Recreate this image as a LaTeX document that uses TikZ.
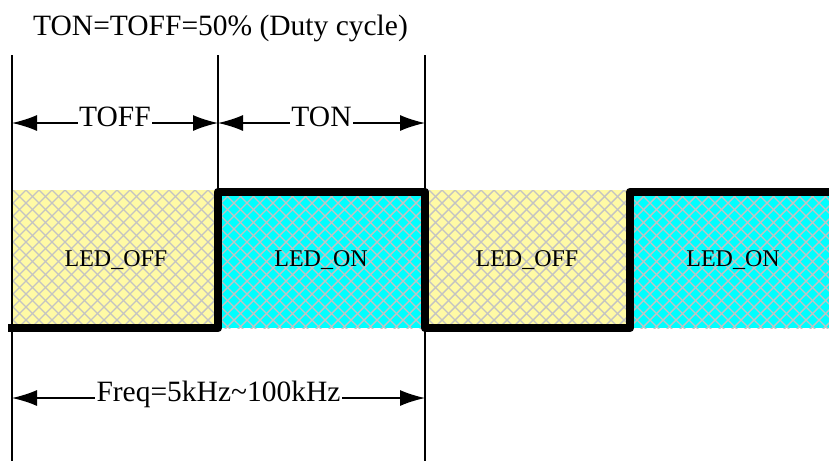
\documentclass[tikz,border=0pt]{standalone}
\usepackage{fontspec}
\setmainfont{Liberation Serif}
\usetikzlibrary{arrows.meta}
\definecolor{ledyellow}{RGB}{255,250,165}
\definecolor{ledcyan}{RGB}{0,255,255}
\definecolor{hatch}{RGB}{195,195,195}
\tikzset{
  guide/.style={line width=1.4pt, black},
  dim/.style={line width=1.4pt, black, {Latex[length=25pt,width=16pt]}-{Latex[length=25pt,width=16pt]}},
  dimlabel/.style={fill=white, inner xsep=1.5pt, inner ysep=1pt, font=\fontsize{29.5}{34}\selectfont, text height=0.662em, text depth=0pt},
  ledlabel/.style={font=\fontsize{24}{28}\selectfont, anchor=base},
  hatchline/.style={line width=1.4pt, hatch},
  wave/.style={line width=8.5pt, line join=round, black}
}
\newcommand{\hatchzone}[3]{% x0, x1, colour
  \begin{scope}
    \clip (#1,190) rectangle (#2,328);
    \fill[#3] (#1,190) rectangle (#2,328);
    \foreach \c in {-156,-143,...,1000} {
      \draw[hatchline] (\c,190) -- ++(160,160);
      \draw[hatchline] (\c,190) -- ++(-160,160);
    }
  \end{scope}}
\begin{document}
\begin{tikzpicture}[x=1pt,y=-1pt]
\useasboundingbox (0,0) rectangle (829,461);
% zones
\hatchzone{12}{218}{ledyellow}
\hatchzone{218}{425}{ledcyan}
\hatchzone{425}{630}{ledyellow}
\hatchzone{630}{829}{ledcyan}
% guide lines
\coordinate (g1t) at (12,55);  \coordinate (g1b) at (12,461);
\coordinate (g2t) at (218,55); \coordinate (g2b) at (218,190);
\coordinate (g3t) at (425,55); \coordinate (g3b) at (425,461);
\draw[guide] (g1t) -- (g1b);
\draw[guide] (g2t) -- (g2b);
\draw[guide] (g3t) -- (g3b);
% waveform
\coordinate (w0) at (8,328);
\coordinate (w1) at (218,328);
\coordinate (w2) at (218,192);
\coordinate (w3) at (425,192);
\coordinate (w4) at (425,328);
\coordinate (w5) at (630,328);
\coordinate (w6) at (630,192);
\coordinate (w7) at (829,192);
\draw[wave] (w0) -- (w1) -- (w2) -- (w3) -- (w4) -- (w5) -- (w6) -- (w7);
% labels in zones
\node[ledlabel] (l1) at (116,266) {LED\_OFF};
\node[ledlabel] (l2) at (321,266) {LED\_ON};
\node[ledlabel] (l3) at (527,266) {LED\_OFF};
\node[ledlabel] (l4) at (733,266) {LED\_ON};
% dimension arrows
\coordinate (a1) at (12,123); \coordinate (a2) at (218,123); \coordinate (a3) at (425,123);
\coordinate (f1) at (12,398); \coordinate (f2) at (425,398);
\draw[dim] (a1) -- node[dimlabel] (toff) {TOFF} (a2);
\draw[dim] (a2) -- node[dimlabel] (ton) {TON} (a3);
\draw[dim] (f1) -- node[dimlabel] (freq) {Freq=5kHz\textasciitilde100kHz} (f2);
% title
\node[anchor=base west, inner sep=0pt, font=\fontsize{29.5}{34}\selectfont] (title) at (33,35) {TON=TOFF=50\% (Duty cycle)};
\end{tikzpicture}
\end{document}
